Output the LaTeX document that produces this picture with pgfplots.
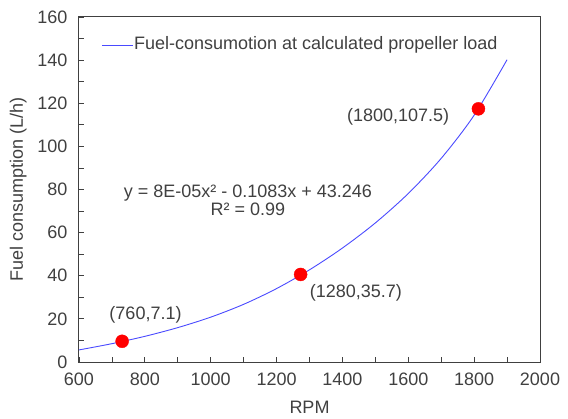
\documentclass[border=0pt]{standalone}
\usepackage{pgfplots}
\pgfplotsset{compat=1.18}
\usepackage{fontspec}
\setmainfont{Liberation Sans}

\definecolor{txtgray}{HTML}{404040}
\definecolor{curveblue}{HTML}{4A4AFF}

\begin{document}
\begin{tikzpicture}
  % page frame: 568 x 419, axis box 461 x 345
  \path[use as bounding box] (-79bp,-57bp) rectangle (489bp,362bp);
  \begin{axis}[
      scale only axis,
      width=461bp, height=345bp,
      xmin=600, xmax=2000,
      ymin=0, ymax=160,
      xtick={600,800,...,2000},
      minor xtick={700,900,...,1900},
      ytick={0,20,...,160},
      minor ytick={10,30,...,150},
      tick align=inside,
      xtick pos=bottom, ytick pos=left,
      major tick length=5bp, minor tick length=5bp,
      tick style={txtgray, line width=0.8bp},
      axis line style={txtgray, line width=1bp},
      font=\fontsize{18bp}{18.5bp}\selectfont,
      every tick label/.append style={text=txtgray},
      /pgf/number format/assume math mode=true,
      /pgf/number format/set thousands separator={},
      yticklabel style={xshift=-8bp},
      xticklabel style={yshift=-7bp},
      xlabel={RPM},
      ylabel={Fuel consumption (L/h)},
      label style={text=txtgray},
      xlabel style={at={(axis description cs:0.5,-0.130)}, anchor=center},
      ylabel style={at={(axis description cs:-0.132,0.5)}, anchor=center},
      clip=false,
    ]

    % fitted curve
    \addplot[curveblue, line width=0.9bp, smooth] coordinates {
        (600,5.6) (700,8.5) (800,11.9) (900,15.95) (1000,20.8)
        (1100,26.75) (1200,34.05) (1300,42.75) (1400,52.85) (1500,64.5)
        (1600,78.15) (1700,94.45) (1800,114.45) (1900,140.2)
      };

    % measured points
    \addplot[only marks, mark=*, mark size=6.5bp, red, mark options={draw=red, fill=red}]
      coordinates {(731,9.6) (1273,40.6) (1813,117.4)};

    % legend drawn by hand
    \draw[curveblue, line width=0.9bp] (axis cs:670,147) -- (axis cs:764,147);
    \node[anchor=west, text=txtgray, inner sep=0pt] at (axis cs:767,147)
      {Fuel-consumotion at calculated propeller load};

    % trendline text
    \node[text=txtgray, align=center, inner sep=0pt] at (axis cs:1113,75)
      {y = 8E-05x² - 0.1083x + 43.246\\R² = 0.99};

    % point labels
    \node[text=txtgray] at (axis cs:802,21.8) {(760,7.1)};
    \node[text=txtgray] at (axis cs:1441,32) {(1280,35.7)};
    \node[text=txtgray] at (axis cs:1569,113.8) {(1800,107.5)};
  \end{axis}
\end{tikzpicture}
\end{document}
